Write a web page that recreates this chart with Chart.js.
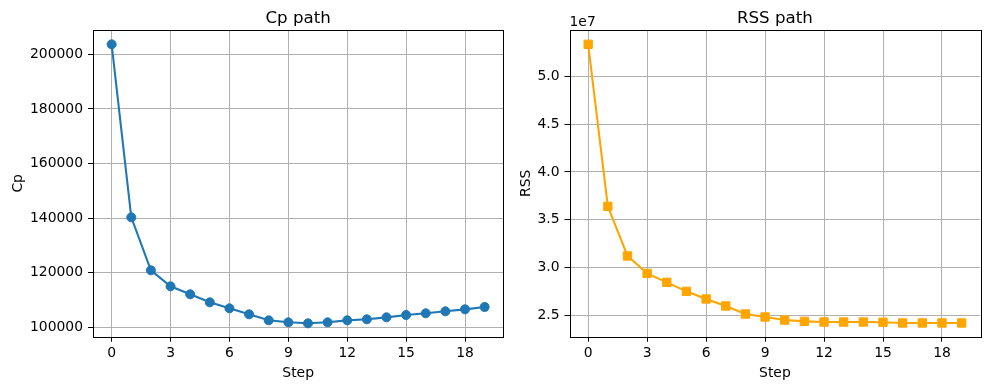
<!DOCTYPE html>
<html><head><meta charset="utf-8">
<script src="https://cdn.jsdelivr.net/npm/chart.js@4.4.0/dist/chart.umd.min.js"></script>
<style>
html,body{margin:0;padding:0;background:#fff;}
#wrap{position:relative;width:989px;height:390px;background:#fff;}
canvas{position:absolute;left:0;top:0;}
</style></head><body>
<div id="wrap"><canvas id="c1" width="989" height="390"></canvas><canvas id="c2" width="989" height="390"></canvas></div>
<script>
const steps = [0,1,2,3,4,5,6,7,8,9,10,11,12,13,14,15,16,17,18,19];
const cpValues = [203660,140290,120880,115020,112090,109160,106960,104760,102560,101830,101470,101830,102560,102930,103660,104520,105130,105860,106590,107450];
const rssValues = [5.335e7,3.640e7,3.121e7,2.939e7,2.845e7,2.751e7,2.671e7,2.598e7,2.514e7,2.483e7,2.451e7,2.437e7,2.430e7,2.430e7,2.430e7,2.428e7,2.420e7,2.420e7,2.420e7,2.420e7];
const xTicks = [0,3,6,9,12,15,18];
const cpTicks = [100000,120000,140000,160000,180000,200000];
const rssTicks = [2.5e7,3.0e7,3.5e7,4.0e7,4.5e7,5.0e7];

const FONT = '"DejaVu Sans", sans-serif';

function deco(o){
  return {id:'deco', afterDraw(chart){
    const ctx = chart.ctx, a = chart.chartArea;
    ctx.save();
    ctx.strokeStyle = '#000'; ctx.lineWidth = 1;
    ctx.strokeRect(Math.round(a.left) + 0.5, Math.round(a.top) + 0.5, Math.round(a.right - a.left), Math.round(a.bottom - a.top));
    ctx.fillStyle = '#000';
    ctx.font = '16.67px ' + FONT; ctx.textAlign = 'center'; ctx.textBaseline = 'alphabetic';
    ctx.fillText(o.title, (a.left + a.right) / 2, 22.5);
    ctx.font = '13.9px ' + FONT;
    ctx.fillText(o.xlabel, (a.left + a.right) / 2, 376.5);
    ctx.save();
    ctx.translate(o.ylabelX, (a.top + a.bottom) / 2);
    ctx.rotate(-Math.PI / 2);
    ctx.fillText(o.ylabel, 0, 0);
    ctx.restore();
    if (o.offset) { ctx.textAlign = 'left'; ctx.fillText(o.offset, a.left, 26); }
    ctx.restore();
  }};
}

function makeChart(id, o){
  return new Chart(document.getElementById(id), {
    type: 'scatter',
    data: { datasets: [{
      data: steps.map((s, i) => ({x: s, y: o.values[i]})),
      showLine: true,
      borderColor: o.color, backgroundColor: o.color,
      pointBackgroundColor: o.color, pointBorderColor: o.color,
      borderWidth: 2.08,
      pointStyle: o.pointStyle, pointRadius: o.pointRadius, pointBorderWidth: 1,
      pointHoverRadius: o.pointRadius,
      tension: 0
    }]},
    options: {
      responsive: false, animation: false, devicePixelRatio: 1,
      layout: { padding: { left: o.padLeft, right: o.padRight, top: 30, bottom: 0 } },
      plugins: { legend: {display: false}, tooltip: {enabled: false}, title: {display: false} },
      scales: {
        x: {
          type: 'linear', min: -0.95, max: 19.95,
          afterBuildTicks: s => { s.ticks = xTicks.map(v => ({value: v})); },
          afterFit: s => { s.height = 390 - 336.67; },
          grid: { color: '#b0b0b0', lineWidth: 1, tickColor: '#000', tickLength: 5, drawTicks: true },
          border: { display: false },
          ticks: { color: '#000', font: { family: FONT, size: 13.9 }, padding: 3, maxRotation: 0, callback: v => String(v) }
        },
        y: {
          type: 'linear', min: o.ymin, max: o.ymax,
          afterBuildTicks: s => { s.ticks = o.ticks.map(v => ({value: v})); },
          afterFit: s => { s.width = o.yWidth; },
          grid: { color: '#b0b0b0', lineWidth: 1, tickColor: '#000', tickLength: 5, drawTicks: true },
          border: { display: false },
          ticks: { color: '#000', font: { family: FONT, size: 13.9 }, padding: 5, callback: o.fmt }
        }
      }
    },
    plugins: [deco(o)]
  });
}

makeChart('c1', {
  values: cpValues, color: '#1f77b4', pointStyle: 'circle', pointRadius: 4.5,
  padLeft: 0, padRight: 989 - 503.3, yWidth: 93.0,
  ymin: 96580, ymax: 208910, ticks: cpTicks, fmt: v => String(v),
  title: 'Cp path', xlabel: 'Step', ylabel: 'Cp', ylabelX: 21.8
});
makeChart('c2', {
  values: rssValues, color: '#ffa500', pointStyle: 'rect', pointRadius: 5.9,
  padLeft: 500, padRight: 989 - 980.3, yWidth: 69.5,
  ymin: 2.2768e7, ymax: 5.4846e7, ticks: rssTicks, fmt: v => (v / 1e7).toFixed(1),
  title: 'RSS path', xlabel: 'Step', ylabel: 'RSS', ylabelX: 530, offset: '1e7'
});
</script>
</body></html>
